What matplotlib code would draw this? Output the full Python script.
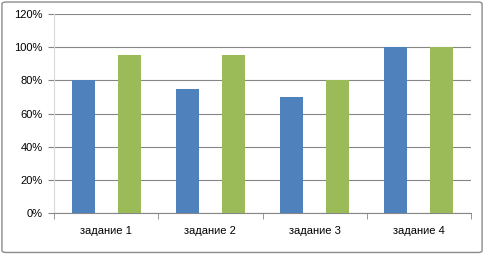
import numpy as np
import matplotlib
matplotlib.use("Agg")
import matplotlib.pyplot as plt
from matplotlib.patches import FancyBboxPatch
from matplotlib.ticker import FuncFormatter

############### DATA ###################
categories = ["задание 1", "задание 2", "задание 3", "задание 4"]
series_blue = [80, 75, 70, 100]
series_green = [95, 95, 80, 100]
yticks = [0, 20, 40, 60, 80, 100, 120]

############### PLOT ###################
plt.rcParams['font.family'] = ['Liberation Sans', 'DejaVu Sans']

fig = plt.figure(figsize=(4.85, 2.54), dpi=100)
ax = fig.add_axes([54/485, 1-213/254, (471-54)/485, (213-14)/254])

# outer border like Excel chart area
border = FancyBboxPatch((0.004, 0.006), 0.99, 0.986, boxstyle="round,pad=0,rounding_size=0.008",
                        transform=fig.transFigure, fill=False, edgecolor="#8C8C8C", linewidth=1.0)
fig.patches.append(border)

x = np.arange(len(categories))
w = 0.22
ax.bar(x - 0.22, series_blue, width=w, color="#4F81BD", zorder=3)
ax.bar(x + 0.22, series_green, width=w, color="#9BBB59", zorder=3)

ax.set_xlim(-0.5, len(categories) - 0.5)
ax.set_ylim(0, 120)
ax.set_yticks(yticks)
ax.yaxis.set_major_formatter(FuncFormatter(lambda v, p: "%d%%" % v))
ax.set_xticks(x)
ax.set_xticklabels(categories)
ax.set_xticks(np.arange(len(categories) + 1) - 0.5, minor=True)

ax.grid(axis="y", color="#868686", linewidth=0.8, zorder=0)
for s in ["top", "right"]:
    ax.spines[s].set_visible(False)
ax.spines["left"].set_color("#D9D9D9")
ax.spines["bottom"].set_color("#868686")
ax.tick_params(axis="y", length=4, width=0.8, color="#868686", labelsize=8, pad=4, colors="black")
ax.tick_params(axis="y", color="#868686")
ax.tick_params(axis="x", which="major", length=0, labelsize=8, pad=9)
ax.tick_params(axis="x", which="minor", length=4, color="#868686", direction="out")

plt.savefig("out.png", dpi=100)
